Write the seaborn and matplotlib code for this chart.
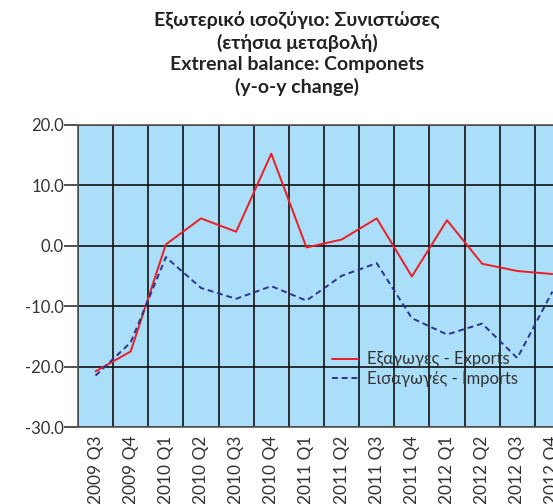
import matplotlib
matplotlib.use("Agg")
import matplotlib.pyplot as plt
import seaborn as sns
import pandas as pd
import numpy as np

categories = ["2009 Q3", "2009 Q4", "2010 Q1", "2010 Q2", "2010 Q3", "2010 Q4",
              "2011 Q1", "2011 Q2", "2011 Q3", "2011 Q4", "2012 Q1", "2012 Q2",
              "2012 Q3", "2012 Q4"]
exports = [-20.8, -17.5, 0.2, 4.5, 2.3, 15.2, -0.3, 1.0, 4.5, -5.1, 4.2, -3.0, -4.2, -4.7]
imports = [-21.5, -16.0, -1.9, -7.0, -8.8, -6.7, -9.1, -5.0, -2.9, -12.0, -14.7, -12.9, -18.6, -7.6]
series_names = ["Εξαγωγές - Exports", "Εισαγωγές - Imports"]
y_ticks = [-30, -20, -10, 0, 10, 20]

sns.set_style("white")
plt.rcParams['font.family'] = ['Lato', 'DejaVu Sans']

df = pd.DataFrame({
    "x": list(range(len(categories))) * 2,
    "value": exports + imports,
    "series": [series_names[0]] * len(categories) + [series_names[1]] * len(categories),
})

fig = plt.figure(figsize=(5.53, 5.04), dpi=100)
ax = fig.add_axes([78 / 553, 77 / 504, 492 / 553, 302.3 / 504])
ax.set_facecolor("#ABDFF9")

sns.lineplot(data=df, x="x", y="value", hue="series", style="series",
             palette={series_names[0]: "#EE1C25", series_names[1]: "#2E3192"},
             dashes={series_names[0]: "", series_names[1]: (3, 2)},
             linewidth=1.4, ax=ax, legend=True)

ax.set_xlim(-0.5, len(categories) - 0.5)
ax.set_ylim(-30, 20)
ax.set_yticks(y_ticks)
ax.set_yticklabels([f"{v:.1f}" for v in y_ticks], fontsize=12, color="#333333")
ax.set_xticks(range(len(categories)))
ax.set_xticklabels(categories, rotation=90, fontsize=12.5, color="#333333")
ax.set_xticks(np.arange(-0.5, len(categories), 1.0), minor=True)
ax.tick_params(axis="x", which="major", length=0, pad=6)
ax.tick_params(axis="x", which="minor", length=0)
ax.tick_params(axis="y", which="major", length=10, width=1.2, color="#333333", left=True, pad=0)
ax.grid(True, axis="y", which="major", color="#111111", linewidth=1.2)
ax.grid(True, axis="x", which="minor", color="#111111", linewidth=1.2)
ax.grid(False, axis="x", which="major")
for s in ax.spines.values():
    s.set_color("#555555")
    s.set_linewidth(1.2)
ax.set_xlabel("")
ax.set_ylabel("")

leg = ax.legend(loc="upper left", bbox_to_anchor=(247 / 492, 0.272), frameon=False,
                fontsize=12, handlelength=1.6, handletextpad=0.5, labelspacing=0.22,
                borderaxespad=0)
for t in leg.get_texts():
    t.set_color("#333333")

fig.text(0.537, 0.978, "Εξωτερικό ισοζύγιο: Συνιστώσες\n(ετήσια μεταβολή)\nExtrenal balance: Componets\n(y-o-y change)",
         ha="center", va="top", fontsize=14, fontweight="bold", color="#222222", linespacing=1.3)

fig.savefig("out.png", dpi=100)
